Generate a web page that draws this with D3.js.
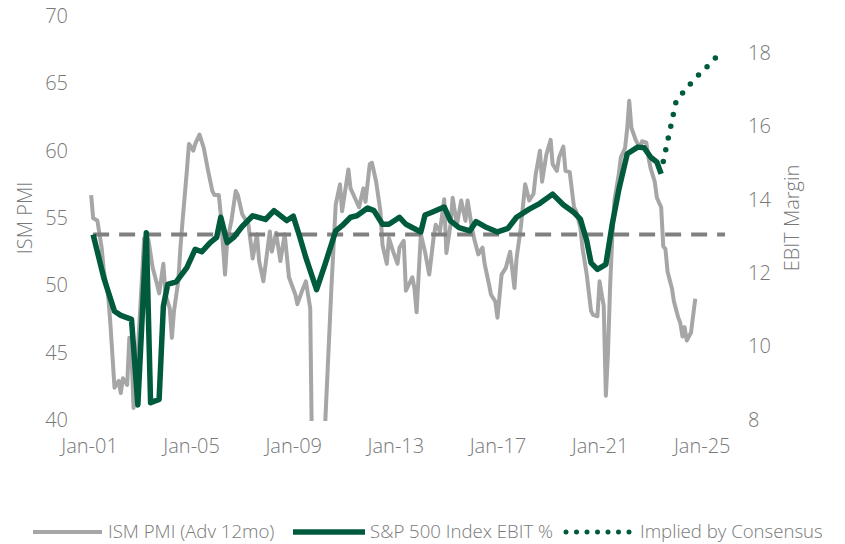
<!DOCTYPE html>
<html>
<head>
<meta charset="utf-8">
<script src="https://cdn.jsdelivr.net/npm/d3@7"></script>
<style>
body{margin:0;background:#fff;}
text{font-family:"Open Sans",sans-serif;font-weight:300;fill:#787878;}
</style>
</head>
<body>
<div id="chart"></div>
<script>
// ISM PMI advanced 12 months (left axis)
var pmiMonths = ["2001-02","2001-03","2001-05","2001-07","2001-08","2001-10","2001-11","2001-12","2002-01","2002-03","2002-04","2002-05","2002-07","2002-08","2002-09","2002-10","2002-11",
"2003-01","2003-03","2003-04","2003-05","2003-07","2003-09","2003-10","2003-12","2004-01","2004-03","2004-04","2004-05","2004-07","2004-08","2004-09","2004-11","2004-12",
"2005-02","2005-03","2005-05","2005-07","2005-09","2005-11","2005-12","2006-02","2006-03","2006-05","2006-06","2006-08","2006-10","2006-11",
"2007-01","2007-04","2007-06","2007-08","2007-09","2007-11","2008-02","2008-03","2008-05","2008-07","2008-09","2008-11",
"2009-02","2009-03","2009-05","2009-07","2009-09","2009-10","2009-12","2010-02","2010-04","2010-07","2010-09","2010-11","2010-12",
"2011-03","2011-04","2011-06","2011-08","2011-10","2011-11","2012-01","2012-02","2012-04","2012-06","2012-07","2012-09","2012-10","2012-12",
"2013-02","2013-03","2013-05","2013-06","2013-09","2013-10","2013-11","2014-01","2014-03","2014-05","2014-07","2014-08","2014-10","2014-12",
"2015-01","2015-03","2015-04","2015-06","2015-08","2015-10","2015-11","2016-01","2016-02","2016-04","2016-06","2016-07","2016-09","2016-10","2016-12",
"2017-01","2017-03","2017-05","2017-07","2017-09","2017-10","2017-12","2018-02","2018-04","2018-06","2018-07","2018-09","2018-10","2018-12",
"2019-02","2019-03","2019-05","2019-06","2019-08","2019-09","2019-11","2020-01","2020-02","2020-04","2020-05","2020-07","2020-09","2020-10","2020-12",
"2021-01","2021-02","2021-03","2021-04","2021-05","2021-06","2021-07","2021-08","2021-10","2021-11","2022-01","2022-02","2022-03","2022-04","2022-06","2022-08","2022-09","2022-11","2022-12",
"2023-01","2023-03","2023-04","2023-06","2023-07","2023-08","2023-09","2023-11","2023-12","2024-02","2024-03","2024-04","2024-05","2024-06","2024-08","2024-10"];
var pmiValues = [56.7,55.0,54.8,52.8,51.1,49.3,47.3,44.9,42.4,42.9,42.0,43.1,42.6,46.1,44.9,40.9,42.4,
48.0,53.5,52.0,53.4,51.3,50.1,49.4,51.6,49.3,48.3,46.1,48.1,50.3,52.8,54.8,58.5,60.5,
60.0,60.5,61.2,60.2,58.5,57.0,56.7,56.7,55.3,50.8,53.3,54.8,57.0,56.7,
55.3,54.5,52.0,53.8,51.8,50.3,54.0,52.5,53.9,51.8,53.8,50.6,
49.3,48.6,49.5,50.3,48.3,35.5,33.0,34.5,39.5,49.8,56.0,57.5,55.5,
58.6,57.2,56.5,55.8,57.2,56.2,59.0,59.1,57.7,55.5,53.0,51.6,53.5,52.5,
51.6,52.8,53.3,49.6,50.6,49.8,48.0,53.8,52.5,50.8,53.5,54.5,54.0,56.4,
52.4,54.5,56.5,54.5,56.3,54.8,56.3,54.3,53.5,52.3,52.8,51.6,50.1,49.3,48.8,
47.6,50.8,51.3,52.5,49.8,52.0,54.3,57.5,56.3,56.8,58.2,60.0,57.7,59.7,
60.8,59.0,58.5,59.5,60.3,58.5,58.4,55.8,55.5,54.3,52.8,50.8,48.1,47.8,47.7,
50.3,49.3,48.5,41.8,45.0,50.0,53.5,56.3,58.2,59.5,60.2,61.7,63.7,61.7,60.8,60.2,60.7,60.6,59.5,
58.7,57.7,56.5,55.8,52.9,52.7,51.0,49.8,48.8,47.6,47.2,46.2,46.9,45.9,46.5,49.0];

// S&P 500 EBIT margin (right axis)
var ebitMonths = ["2001-03","2001-08","2002-01","2002-04","2002-09","2002-12","2003-04","2003-06","2003-10","2003-12","2004-02","2004-06","2004-11",
"2005-03","2005-06","2005-10","2006-01","2006-03","2006-06","2006-09","2007-01","2007-06","2007-12","2008-04","2008-10",
"2009-01","2009-04","2009-07","2009-12","2010-04","2010-09","2010-12","2011-04","2011-07","2011-12","2012-03","2012-07","2012-10",
"2013-03","2013-06","2014-01","2014-03","2014-06","2014-12","2015-03","2015-07","2015-12","2016-03","2016-08","2017-01","2017-06","2017-10",
"2018-04","2018-09","2019-03","2019-08","2020-01","2020-04","2020-07","2020-09","2020-12","2021-04","2021-07","2021-10",
"2022-02","2022-07","2022-10","2023-01","2023-04","2023-06"];
var ebitValues = [13.05,11.87,10.96,10.85,10.74,8.41,13.10,8.47,8.56,11.10,11.69,11.76,12.15,
12.65,12.58,12.83,12.97,13.52,12.83,12.97,13.27,13.56,13.46,13.70,13.43,
13.55,13.01,12.42,11.55,12.24,13.15,13.29,13.52,13.56,13.77,13.70,13.33,13.33,
13.52,13.33,13.12,13.58,13.65,13.80,13.42,13.24,13.15,13.40,13.24,13.12,13.22,13.52,
13.74,13.90,14.15,13.86,13.65,13.47,12.88,12.28,12.10,12.24,13.33,14.25,
15.25,15.43,15.41,15.16,15.02,14.70];

// margin implied by consensus (right axis)
var consensusMonths = ["2023-07","2024-01","2024-05","2024-09","2025-01","2025-05","2025-08"];
var consensusValues = [15.04,16.68,16.97,17.24,17.48,17.70,17.89];

var avgMargin = 13.05;
var avgMonths = ["2001-03","2025-12"];

var xTickMonths = ["2001-01","2005-01","2009-01","2013-01","2017-01","2021-01","2025-01"];
var pmiTicks = [40,45,50,55,60,65,70];
var marginTicks = [8,10,12,14,16,18];
var legendLabels = ["ISM PMI (Adv 12mo)","S&P 500 Index EBIT %","Implied by Consensus"];

var w = 845, h = 544;
var grey = "#a6a6a6", green = "#005a3e", dashGrey = "#808080";
var parseMonth = d3.timeParse("%Y-%m");

var x = d3.scaleTime()
  .domain([parseMonth("2001-01"), parseMonth("2025-01")])
  .range([89, 701.7]);
var yLeft = d3.scaleLinear().domain([40, 70]).range([420, 16]);
var yRight = d3.scaleLinear().domain([8, 19]).range([420, 16]);

var svg = d3.select("#chart")
  .append("svg")
  .attr("width", w)
  .attr("height", h);

svg.append("clipPath")
  .attr("id", "plotclip")
  .append("rect")
  .attr("x", 60).attr("y", 0)
  .attr("width", 700).attr("height", 421);

var pmiData = pmiMonths.map(function(m, i){ return {date: parseMonth(m), v: pmiValues[i]}; });
var ebitData = ebitMonths.map(function(m, i){ return {date: parseMonth(m), v: ebitValues[i]}; });
var consData = consensusMonths.map(function(m, i){ return {date: parseMonth(m), v: consensusValues[i]}; });
var avgData = avgMonths.map(function(m){ return {date: parseMonth(m), v: avgMargin}; });

var leftLine = d3.line().x(function(d){ return x(d.date); }).y(function(d){ return yLeft(d.v); });
var rightLine = d3.line().x(function(d){ return x(d.date); }).y(function(d){ return yRight(d.v); });

var plot = svg.append("g").attr("clip-path", "url(#plotclip)");

plot.append("path")
  .datum(pmiData)
  .attr("d", leftLine)
  .attr("fill", "none")
  .attr("stroke", grey)
  .attr("stroke-width", 4)
  .attr("stroke-linejoin", "round");

plot.append("path")
  .datum(avgData)
  .attr("d", rightLine)
  .attr("fill", "none")
  .attr("stroke", dashGrey)
  .attr("stroke-width", 4)
  .attr("stroke-dasharray", "16,10");

plot.append("path")
  .datum(ebitData)
  .attr("d", rightLine)
  .attr("fill", "none")
  .attr("stroke", green)
  .attr("stroke-width", 5.5)
  .attr("stroke-linejoin", "round");

plot.append("path")
  .datum(consData)
  .attr("d", rightLine)
  .attr("fill", "none")
  .attr("stroke", green)
  .attr("stroke-width", 5.5)
  .attr("stroke-linecap", "round")
  .attr("stroke-dasharray", "0,12");

// axes
var styleAxis = function(g){
  g.select(".domain").remove();
  g.selectAll("text")
    .attr("fill", null)
    .style("font-size", "20px")
    .style("font-family", "'Open Sans', sans-serif");
  g.attr("font-size", null).attr("font-family", null);
};

svg.append("g")
  .attr("transform", "translate(68,0)")
  .call(d3.axisLeft(yLeft).tickValues(pmiTicks).tickSize(0).tickPadding(0))
  .call(styleAxis);

svg.append("g")
  .attr("transform", "translate(748,0)")
  .call(d3.axisRight(yRight).tickValues(marginTicks).tickSize(0).tickPadding(0))
  .call(styleAxis);

svg.append("g")
  .attr("transform", "translate(0,439)")
  .call(d3.axisBottom(x)
    .tickValues(xTickMonths.map(parseMonth))
    .tickFormat(d3.timeFormat("%b-%y"))
    .tickSize(0).tickPadding(0))
  .call(styleAxis);

// axis titles
svg.append("text")
  .text("ISM PMI")
  .attr("text-anchor", "middle")
  .attr("dominant-baseline", "central")
  .attr("transform", "translate(24,218) rotate(-90)")
  .style("font-size", "20px");

svg.append("text")
  .text("EBIT Margin")
  .attr("text-anchor", "middle")
  .attr("dominant-baseline", "central")
  .attr("transform", "translate(791,218) rotate(-90)")
  .style("font-size", "20px");

// legend
var legend = svg.append("g");
var ly = 532;
legend.append("line")
  .attr("x1", 33).attr("x2", 102).attr("y1", ly).attr("y2", ly)
  .attr("stroke", grey).attr("stroke-width", 4);
legend.append("line")
  .attr("x1", 293).attr("x2", 365).attr("y1", ly).attr("y2", ly)
  .attr("stroke", green).attr("stroke-width", 5.5);
legend.append("line")
  .attr("x1", 566).attr("x2", 630).attr("y1", ly).attr("y2", ly)
  .attr("stroke", green).attr("stroke-width", 5)
  .attr("stroke-linecap", "round").attr("stroke-dasharray", "0,10.5");

var legendX = [108, 370, 640];
legend.selectAll("text.lab")
  .data(legendLabels)
  .enter()
  .append("text")
  .attr("class", "lab")
  .text(function(d){ return d; })
  .attr("x", function(d, i){ return legendX[i]; })
  .attr("y", 538)
  .style("font-size", "18.6px");
</script>
</body>
</html>
